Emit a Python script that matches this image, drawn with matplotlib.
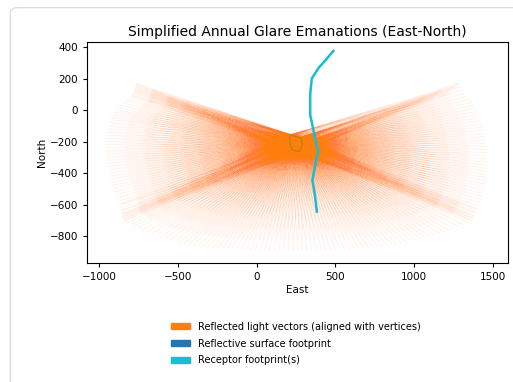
import numpy as np
import matplotlib.pyplot as plt
from matplotlib.collections import LineCollection
from matplotlib.patches import Patch, FancyBboxPatch

# reflective surface footprint (East, North)
surface_east = [212, 278, 292, 276, 226, 210]
surface_north = [-158, -175, -215, -262, -256, -205]

# receptor track
receptor_east = [487, 440, 395, 350, 340, 340, 365, 390, 370, 354, 370, 382]
receptor_north = [376, 320, 270, 200, 100, -30, -150, -265, -360, -445, -540, -645]

# end points of the reflected light vectors, west edge (top to bottom)
west_east = [-760, -765, -770, -772, -775, -778, -780, -790, -800, -815, -830, -845,
             -860, -875, -890, -900, -910, -920, -928, -935, -940, -945, -948, -950,
             -952, -954, -955, -955, -955, -954, -952, -950, -947, -944, -940, -936,
             -931, -926, -920, -914, -908, -901, -894, -886, -878, -870, -865, -860,
             -857, -855, -852, -848, -842]
west_north = [170, 160, 150, 140, 130, 120, 110, 95, 85, 72, 60, 45,
              30, 15, 0, -15, -30, -45, -60, -80, -100, -120, -140, -160,
              -180, -200, -220, -240, -260, -280, -300, -320, -340, -360, -380, -400,
              -420, -440, -460, -480, -500, -520, -540, -560, -580, -600, -620, -640,
              -660, -670, -680, -690, -700]

# south edge (west to east)
south_east = [-820, -800, -780, -755, -730, -700, -670, -640, -610, -580, -550, -520,
              -490, -460, -430, -400, -370, -340, -310, -280, -250, -220, -190, -160,
              -130, -100, -70, -40, -10, 20, 50, 80, 110, 140, 170, 200,
              230, 260, 290, 320, 350, 380, 410, 440, 470, 500, 530, 560,
              590, 620, 650, 680, 710, 740, 770, 800, 830, 860, 890, 920,
              950, 980, 1010, 1040, 1070, 1100, 1130, 1160, 1190, 1220, 1250, 1280,
              1310, 1340, 1360]
south_north = [-715, -728, -740, -752, -764, -776, -788, -798, -808, -817, -826, -834,
               -842, -848, -854, -859, -864, -868, -871, -874, -877, -879, -881, -883,
               -885, -886, -887, -888, -889, -890, -890, -890, -890, -890, -890, -890,
               -890, -890, -890, -890, -890, -890, -890, -889, -888, -887, -886, -885,
               -883, -881, -879, -877, -874, -871, -868, -864, -860, -855, -850, -845,
               -839, -832, -825, -818, -810, -802, -793, -784, -774, -763, -752, -740,
               -727, -713, -700]

# east edge (bottom to top)
east_east = [1370, 1375, 1380, 1390, 1400, 1410, 1418, 1426, 1432, 1437, 1442, 1446,
             1450, 1453, 1455, 1457, 1459, 1460, 1461, 1461, 1461, 1460, 1459, 1457,
             1455, 1452, 1449, 1446, 1442, 1437, 1432, 1426, 1420, 1412, 1404, 1395,
             1385, 1375, 1365, 1355, 1340, 1325, 1310, 1295, 1280]
east_north = [-690, -680, -670, -650, -630, -610, -590, -570, -550, -530, -510, -490,
              -470, -450, -430, -410, -390, -370, -350, -330, -310, -290, -270, -250,
              -230, -210, -190, -170, -150, -130, -110, -90, -70, -50, -30, -10,
              10, 30, 50, 70, 90, 110, 130, 150, 170]

# solstice bands, where the vectors bunch together
band_east = [-765, -770, -775, -780, -785, -790, -870, -860, -855, -850, -845, -838,
             1365, 1372, 1380, 1388, 1395, 1402, 1285, 1270, 1255, 1240, 1225, 1210]
band_north = [165, 150, 135, 120, 105, 90, -600, -640, -660, -675, -690, -705,
              -705, -690, -672, -655, -640, -625, 165, 155, 145, 130, 115, 100]


def fading_rays(ends_e, ends_n, alpha, width, layers=10):
    # every vertex sends a ray to every end point; shorter copies stacked on top
    # make the stroke fade out towards the far end
    segs = []
    for ve, vn in zip(surface_east, surface_north):
        for re, rn in zip(ends_e, ends_n):
            for f in np.linspace(1, 1 / layers, layers):
                segs.append([(ve, vn), (ve + (re - ve) * f, vn + (rn - vn) * f)])
    return LineCollection(segs, colors="tab:orange", linewidths=width, alpha=alpha / layers)


fig = plt.figure(figsize=(5.13, 3.82), dpi=100)

card = FancyBboxPatch((0.02, -0.05), 1.1, 1.03, boxstyle="round,pad=0,rounding_size=0.015",
                      transform=fig.transFigure, facecolor="white", edgecolor="#dddddd",
                      linewidth=1.0, zorder=-1)
fig.patches.append(card)

ax = fig.add_axes([0.1696, 0.3115, 0.8207, 0.5785])

ax.add_collection(fading_rays(west_east + south_east + east_east,
                              west_north + south_north + east_north, 0.21, 0.5))
ax.add_collection(fading_rays(band_east, band_north, 0.11, 0.7))

ax.fill(surface_east, surface_north, facecolor="none", edgecolor="tab:blue", alpha=0.4, linewidth=0.8)
ax.plot(receptor_east, receptor_north, color="tab:cyan", linewidth=1.8)

ax.set_xlim(-1076, 1595)
ax.set_ylim(-971, 432)
ax.set_xticks([-1000, -500, 0, 500, 1000, 1500])
ax.set_yticks([400, 200, 0, -200, -400, -600, -800])
ax.tick_params(labelsize=7.5, length=3)
ax.set_xlabel("East", fontsize=7.5, labelpad=2)
ax.set_ylabel("North", fontsize=7.5, labelpad=2)
ax.set_title("Simplified Annual Glare Emanations (East-North)", fontsize=10, pad=4)

handles = [Patch(color="tab:orange", label="Reflected light vectors (aligned with vertices)"),
           Patch(color="tab:blue", label="Reflective surface footprint"),
           Patch(color="tab:cyan", label="Receptor footprint(s)")]
fig.legend(handles=handles, loc="upper left", bbox_to_anchor=(0.325, 0.168), frameon=False,
           fontsize=7, handlelength=2.0, handleheight=0.6, labelspacing=0.7, borderaxespad=0)

fig.savefig("out.png", dpi=100)
